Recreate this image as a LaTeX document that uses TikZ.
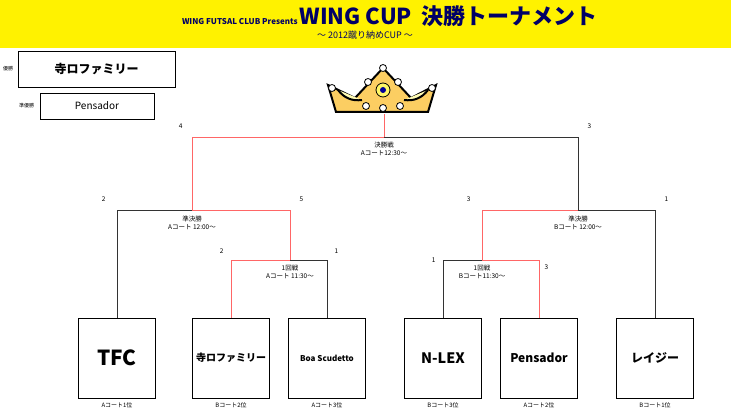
\documentclass[tikz,border=0pt]{standalone}
\usepackage{fontspec}
\setmainfont{Noto Sans CJK JP}
\usetikzlibrary{positioning}

\begin{document}
\begin{tikzpicture}[x=1pt,y=-1pt,
    team/.style={draw, thick, minimum width=77pt, minimum height=80pt, font=\bfseries},
    win/.style={red!60, line width=0.9pt},
    lose/.style={black!80, line width=0.9pt},
    score/.style={font=\fontsize{6.5}{7}\selectfont},
    match/.style={font=\fontsize{6.5}{7.5}\selectfont, align=center, inner sep=0pt},
    slot/.style={font=\fontsize{6}{7}\selectfont}]
        \useasboundingbox (0,0) rectangle (731,414);
        % Banner
        \fill[yellow] (0,0) rectangle (731,48);
        \node[text=blue!40!black, inner sep=0pt] (banner) at (390,16)
          {\fontsize{8}{9}\selectfont\bfseries WING FUTSAL CLUB Presents\ \fontsize{22}{24}\selectfont WING\ CUP\ \ 決勝トーナメント};
        \node[font=\small, text=blue!40!black] (sub) at (365,35) {～\ 2012蹴り納めCUP\ ～};
        % Winners
        \node[draw, thick, minimum width=157pt, minimum height=36pt, font=\large\bfseries] (champ) at (96.5,69) {寺ロファミリー};
        \node[font=\tiny, left=1pt of champ] (champl) {優勝};
        \node[draw, thick, minimum width=114pt, minimum height=26pt, font=\normalsize] (second) at (97,106) {Pensador};
        \node[font=\tiny, left=2pt of second] (secondl) {準優勝};
        % Crown
        \draw[line width=2pt, fill=yellow!40!orange!60] (328,85) -- (355,98) -- (383,68) -- (411,98) -- (436,85)
          -- (428,112) -- (336,112) -- cycle;
        \draw[line width=2pt, fill=yellow!30] (338,90) to[bend right=30] (362,100) (404,100) to[bend right=30] (428,90);
        \foreach \cx/\cy in {332/88, 432/88, 383/68, 368/82, 398/82, 366/106, 383/108, 400/106}
          \draw[thick, fill=white] (\cx,\cy) circle (3.5pt);
        \draw[thick, fill=yellow!60] (383,90) circle (7pt);
        \fill[blue!60!black] (383,90) circle (3pt);
        % Teams
        \foreach \n/\cx/\name/\lab/\f in {t1/117/TFC/Aコート1位/\huge, t2/231/寺ロファミリー/Bコート2位/\normalsize,
            t3/327/Boa Scudetto/Aコート3位/\footnotesize, t4/443/N-LEX/Bコート3位/\Large,
            t5/539/Pensador/Aコート2位/\large, t6/655/レイジー/Bコート1位/\large} {
          \node[team, font=\bfseries\f] (\n) at (\cx,358) {\name};
          \node[slot, below=1pt of \n] (\n l) {\lab};
        }
        % First round, left
        \coordinate (q1) at (290,260);
        \draw[win] (t2.north) -- (t2.north |- q1) -- (q1);
        \draw[lose] (q1) -- (t3.north |- q1) -- (t3.north);
        \node[match] (m1) at (290,272) {1回戦\\Aコート 11:30～};
        \node[score, above left=3pt and 4pt of t2.north |- q1] (s1) {2};
        \node[score, above right=3pt and 4pt of t3.north |- q1] (s2) {1};
        % First round, right
        \coordinate (q2) at (482,260);
        \draw[lose] (t4.north) -- (t4.north |- q2) -- (q2);
        \draw[win] (q2) -- (t5.north |- q2) -- (t5.north);
        \node[match] (m2) at (482,272) {1回戦\\Bコート11:30～};
        \node[score, left=4pt of t4.north |- q2] (s3) {1};
        \node[score, below right=1pt and 2pt of t5.north |- q2] (s4) {3};
        % Semifinals
        \coordinate (p1) at (192,210);
        \coordinate (p2) at (578,210);
        \draw[lose] (t1.north) -- (t1.north |- p1) -- (p1);
        \draw[win] (p1) -- (q1 |- p1) -- (q1);
        \draw[win] (q2) -- (q2 |- p2) -- (p2);
        \draw[lose] (p2) -- (t6.north |- p2) -- (t6.north);
        \node[match] (m3) at (192,223) {準決勝\\Aコート 12:00～};
        \node[match] (m4) at (578,223) {準決勝\\Bコート 12:00～};
        \node[score, above left=5pt and 8pt of t1.north |- p1] (s5) {2};
        \node[score, above right=5pt and 6pt of q1 |- p1] (s6) {5};
        \node[score, above left=5pt and 8pt of q2 |- p2] (s7) {3};
        \node[score, above right=5pt and 6pt of t6.north |- p2] (s8) {1};
        % Final
        \coordinate (f) at (384,137);
        \coordinate (top) at (384,114);
        \draw[win] (p1) -- (p1 |- f) -- (f) -- (top);
        \draw[lose] (f) -- (p2 |- f) -- (p2);
        \node[match] (m5) at (384,149) {決勝戦\\Aコート12:30～};
        \node[score, above left=5pt and 6pt of p1 |- f] (s9) {4};
        \node[score, above right=5pt and 6pt of p2 |- f] (s10) {3};
      \end{tikzpicture}
\end{document}
